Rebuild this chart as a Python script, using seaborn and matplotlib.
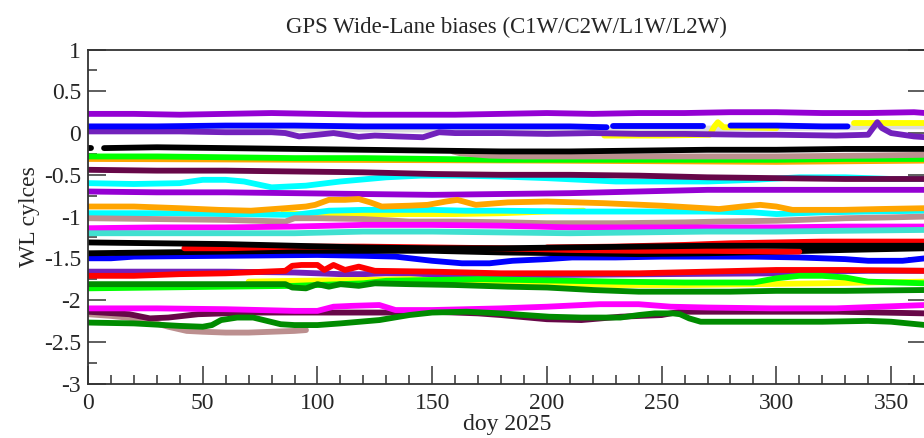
import numpy as np
import matplotlib
matplotlib.use("Agg")
import matplotlib.pyplot as plt
import seaborn as sns

# ---------------- data (day of year, WL bias in cycles) ----------------
grey_top_d = [0, 50, 90, 100, 150, 200, 250, 300, 335, 340, 365]
grey_top_v = [0.05, 0.05, 0.05, 0.05, 0.04, 0.04, 0.05, 0.06, 0.07, 0.08, 0.08]

yellow_top_d = [225, 250, 271, 273, 274.5, 277, 285, 300, 301, 334, 350, 365]
yellow_top_v = [-0.03, -0.03, -0.02, 0.08, 0.13, 0.07, 0.07, 0.06, np.nan, 0.12, 0.12, 0.12]

violet_top_d = [0, 20, 40, 60, 80, 100, 120, 140, 160, 180, 200, 220, 240, 260, 280, 300, 320, 340, 360, 365]
violet_top_v = [0.23, 0.23, 0.22, 0.23, 0.24, 0.23, 0.22, 0.22, 0.22, 0.23, 0.24, 0.23, 0.24, 0.24, 0.25, 0.25, 0.24, 0.24, 0.25, 0.24]

blue_top_d = [0, 30, 60, 90, 120, 150, 180, 210, 226, 227, 229, 250, 268, 270, 280, 300, 320, 331]
blue_top_v = [0.08, 0.08, 0.09, 0.09, 0.08, 0.08, 0.08, 0.08, 0.07, np.nan, 0.08, 0.08, 0.08, np.nan, 0.09, 0.09, 0.08, 0.08]

indigo_top_d = [0, 20, 40, 60, 80, 86, 92, 100, 107, 118, 125, 135, 146, 153, 160, 180, 200, 220, 240, 260, 287, 300, 326, 340, 344, 346, 350, 360, 365]
indigo_top_v = [0.02, 0.02, 0.02, 0.01, 0.01, 0.0, -0.04, -0.02, 0.0, -0.045, -0.03, -0.04, -0.05, 0.01, 0.0, 0.0, -0.01, 0.0, -0.01, -0.01, -0.02, -0.02, -0.03, -0.02, 0.13, 0.06, 0.0, -0.04, -0.05]

black_top_d = [0, 1.5, 3, 7, 30, 60, 90, 120, 150, 180, 210, 240, 270, 300, 330, 365]
black_top_v = [-0.18, -0.18, np.nan, -0.18, -0.17, -0.18, -0.19, -0.2, -0.21, -0.22, -0.22, -0.21, -0.2, -0.2, -0.19, -0.19]

orange_top_d = [0, 100, 200, 300, 365]
orange_top_v = [-0.31, -0.32, -0.33, -0.345, -0.33]

green_top_d = [0, 30, 60, 90, 120, 150, 180, 210, 240, 270, 300, 330, 365]
green_top_v = [-0.28, -0.28, -0.29, -0.3, -0.3, -0.31, -0.32, -0.32, -0.32, -0.32, -0.32, -0.31, -0.31]

brown_top_d = [159, 162, 166, 175, 190, 220, 260, 300, 340, 365]
brown_top_v = [-0.22, -0.24, -0.25, -0.27, -0.28, -0.28, -0.28, -0.28, -0.27, -0.26]

maroon_top_d = [0, 30, 60, 90, 120, 150, 180, 210, 240, 270, 300, 330, 365]
maroon_top_v = [-0.44, -0.45, -0.45, -0.46, -0.47, -0.49, -0.5, -0.5, -0.51, -0.53, -0.54, -0.55, -0.55]

cyan_top_d = [0, 20, 40, 50, 60, 68, 80, 95, 110, 130, 145, 160, 180, 200, 215, 230, 250, 270, 290, 310, 330, 350, 365]
cyan_top_v = [-0.60, -0.61, -0.60, -0.56, -0.56, -0.58, -0.65, -0.63, -0.58, -0.53, -0.51, -0.51, -0.52, -0.54, -0.56, -0.58, -0.58, -0.58, -0.56, -0.53, -0.53, -0.55, -0.55]

violet_mid_d = [0, 30, 60, 90, 120, 150, 180, 210, 240, 270, 300, 330, 365]
violet_mid_v = [-0.70, -0.71, -0.71, -0.72, -0.73, -0.74, -0.73, -0.72, -0.70, -0.68, -0.68, -0.68, -0.68]

cyan_mid_d = [0, 30, 60, 90, 105, 120, 150, 165, 180, 210, 240, 270, 290, 300, 320, 340, 365]
cyan_mid_v = [-0.96, -0.96, -0.97, -0.98, -0.93, -0.92, -0.92, -0.93, -0.93, -0.94, -0.94, -0.94, -0.95, -0.97, -0.95, -0.94, -0.93]

yellow_mid_d = [85, 100, 120, 140, 160, 180, 200, 216]
yellow_mid_v = [-0.96, -0.98, -0.98, -0.97, -0.97, -0.96, -0.94, -0.93]

orange_mid_d = [0, 20, 40, 57, 71, 86, 95, 99, 105, 112, 118, 123, 128, 140, 148, 156, 161, 165, 169, 183, 200, 225, 250, 275, 285, 293, 300, 307, 320, 329, 345, 365]
orange_mid_v = [-0.88, -0.88, -0.90, -0.92, -0.93, -0.90, -0.88, -0.86, -0.80, -0.80, -0.79, -0.83, -0.88, -0.87, -0.86, -0.82, -0.80, -0.83, -0.86, -0.83, -0.82, -0.84, -0.87, -0.91, -0.88, -0.86, -0.88, -0.92, -0.92, -0.92, -0.91, -0.90]

brown_mid_d = [0, 30, 60, 86, 90, 100, 120, 140, 160, 183, 200, 230, 260, 275, 300, 330, 350, 365]
brown_mid_v = [-1.02, -1.03, -1.04, -1.06, -1.02, -1.02, -1.03, -1.06, -1.06, -1.07, -1.08, -1.08, -1.07, -1.06, -1.05, -1.02, -1.01, -1.00]

magenta_mid_d = [0, 30, 60, 90, 120, 150, 180, 210, 240, 270, 300, 330, 365]
magenta_mid_v = [-1.14, -1.13, -1.13, -1.12, -1.10, -1.10, -1.11, -1.13, -1.13, -1.13, -1.13, -1.12, -1.12]

turq_d = [0, 30, 60, 90, 120, 150, 180, 210, 240, 270, 300, 330, 365]
turq_v = [-1.20, -1.20, -1.20, -1.20, -1.18, -1.18, -1.19, -1.20, -1.19, -1.18, -1.18, -1.17, -1.16]

blue_low_d = [0, 10, 20, 60, 100, 120, 134, 150, 163, 175, 185, 200, 211, 230, 250, 270, 290, 310, 330, 340, 355, 365]
blue_low_v = [-1.50, -1.50, -1.48, -1.47, -1.46, -1.47, -1.48, -1.53, -1.56, -1.56, -1.53, -1.51, -1.49, -1.49, -1.48, -1.48, -1.48, -1.49, -1.51, -1.53, -1.53, -1.50]

red_a_d = [42, 60, 90, 120, 150, 180, 210, 240, 270, 300, 310]
red_a_v = [-1.38, -1.38, -1.36, -1.36, -1.37, -1.38, -1.40, -1.41, -1.41, -1.42, -1.42]

red_b_d = [200, 230, 260, 280, 300, 320, 340, 365]
red_b_v = [-1.37, -1.36, -1.34, -1.32, -1.31, -1.30, -1.30, -1.30]

black_low2_d = [0, 30, 60, 90, 120, 150, 180, 210, 240, 270, 300, 330, 365]
black_low2_v = [-1.44, -1.43, -1.42, -1.41, -1.41, -1.41, -1.43, -1.44, -1.45, -1.44, -1.42, -1.40, -1.38]

black_low1_d = [0, 30, 60, 90, 120, 150, 180, 210, 240, 270, 300, 330, 365]
black_low1_v = [-1.31, -1.32, -1.33, -1.35, -1.37, -1.38, -1.38, -1.37, -1.36, -1.35, -1.35, -1.35, -1.35]

indigo_low_d = [0, 30, 60, 90, 100, 110, 120, 130, 150, 200, 250, 300, 320, 340, 365]
indigo_low_v = [-1.66, -1.66, -1.66, -1.67, -1.68, -1.69, -1.69, -1.68, -1.69, -1.70, -1.69, -1.68, -1.66, -1.65, -1.65]

red_low_d = [0, 20, 40, 60, 86, 89, 93, 100, 103, 107, 112, 118, 125, 150, 180, 210, 240, 270, 300, 330, 365]
red_low_v = [-1.71, -1.71, -1.69, -1.68, -1.65, -1.59, -1.58, -1.58, -1.64, -1.58, -1.64, -1.60, -1.65, -1.66, -1.68, -1.68, -1.68, -1.66, -1.64, -1.64, -1.65]

yellow_low_d = [70, 90, 120, 140, 160, 180, 200, 230, 260, 290, 320, 340, 365]
yellow_low_v = [-1.78, -1.77, -1.76, -1.75, -1.78, -1.80, -1.80, -1.82, -1.82, -1.81, -1.80, -1.79, -1.78]

green_low_d = [0, 30, 60, 90, 120, 130, 150, 170, 190, 210, 230, 260, 290, 300, 310, 320, 330, 340, 365]
green_low_v = [-1.86, -1.85, -1.84, -1.83, -1.80, -1.77, -1.76, -1.75, -1.76, -1.77, -1.78, -1.79, -1.79, -1.74, -1.71, -1.71, -1.73, -1.78, -1.80]

green4_d = [0, 30, 60, 86, 89, 95, 100, 105, 110, 118, 125, 140, 160, 183, 200, 220, 240, 260, 280, 300, 330, 365]
green4_v = [-1.81, -1.81, -1.81, -1.81, -1.85, -1.86, -1.81, -1.84, -1.81, -1.83, -1.80, -1.81, -1.82, -1.84, -1.85, -1.88, -1.90, -1.90, -1.90, -1.89, -1.89, -1.88]

magenta_low_d = [0, 30, 60, 90, 100, 107, 115, 127, 134, 150, 180, 200, 223, 240, 254, 270, 298, 326, 345, 365]
magenta_low_v = [-2.10, -2.10, -2.11, -2.13, -2.13, -2.08, -2.07, -2.06, -2.12, -2.12, -2.10, -2.08, -2.05, -2.05, -2.08, -2.09, -2.10, -2.10, -2.08, -2.06]

maroon_low_d = [0, 18, 27, 35, 48, 70, 100, 130, 150, 170, 180, 200, 215, 232, 250, 258, 280, 300, 327, 365]
maroon_low_v = [-2.14, -2.17, -2.22, -2.21, -2.17, -2.15, -2.15, -2.15, -2.14, -2.16, -2.18, -2.23, -2.24, -2.20, -2.18, -2.14, -2.14, -2.14, -2.14, -2.16]

green4_low_d = [0, 20, 40, 50, 54, 58, 65, 72, 78, 84, 90, 100, 110, 127, 140, 150, 165, 180, 201, 215, 232, 240, 247, 255, 258, 262, 267, 280, 300, 320, 340, 350, 365]
green4_low_v = [-2.27, -2.28, -2.31, -2.32, -2.30, -2.24, -2.21, -2.21, -2.25, -2.29, -2.30, -2.30, -2.28, -2.24, -2.18, -2.15, -2.14, -2.16, -2.20, -2.21, -2.21, -2.18, -2.16, -2.16, -2.17, -2.22, -2.26, -2.26, -2.26, -2.26, -2.25, -2.26, -2.30]

brown_low_d = [0, 10, 20, 27, 35, 43, 50, 60, 70, 80, 90, 95]
brown_low_v = [-2.17, -2.19, -2.22, -2.26, -2.32, -2.37, -2.38, -2.39, -2.39, -2.38, -2.37, -2.36]

x_ticks = [0, 50, 100, 150, 200, 250, 300, 350]
y_ticks = [-3, -2.5, -2, -1.5, -1, -0.5, 0, 0.5, 1]
y_ticklabels = ["-3", "-2.5", "-2", "-1.5", "-1", "-0.5", "0", "0.5", "1"]

# Grace palette
C = {
    "black": "#000000", "red": "#ff0000", "green": "#00ff00", "blue": "#0000ff",
    "yellow": "#ffff00", "brown": "#bc8f8f", "grey": "#dcdcdc", "violet": "#9400d3",
    "cyan": "#00ffff", "magenta": "#ff00ff", "orange": "#ffa500", "indigo": "#7221bc",
    "maroon": "#670748", "turquoise": "#40e0d0", "green4": "#008b00",
}

series = [
    (grey_top_d, grey_top_v, "grey"),
    (yellow_top_d, yellow_top_v, "yellow"),
    (violet_top_d, violet_top_v, "violet"),
    (indigo_top_d, indigo_top_v, "indigo"),
    (blue_top_d, blue_top_v, "blue"),
    (orange_top_d, orange_top_v, "orange"),
    (green_top_d, green_top_v, "green"),
    (brown_top_d, brown_top_v, "brown"),
    (black_top_d, black_top_v, "black"),
    (cyan_top_d, cyan_top_v, "cyan"),
    (maroon_top_d, maroon_top_v, "maroon"),
    (violet_mid_d, violet_mid_v, "violet"),
    (yellow_mid_d, yellow_mid_v, "yellow"),
    (cyan_mid_d, cyan_mid_v, "cyan"),
    (orange_mid_d, orange_mid_v, "orange"),
    (brown_mid_d, brown_mid_v, "brown"),
    (magenta_mid_d, magenta_mid_v, "magenta"),
    (turq_d, turq_v, "turquoise"),
    (blue_low_d, blue_low_v, "blue"),
    (red_b_d, red_b_v, "red"),
    (black_low2_d, black_low2_v, "black"),
    (red_a_d, red_a_v, "red"),
    (black_low1_d, black_low1_v, "black"),
    (indigo_low_d, indigo_low_v, "indigo"),
    (red_low_d, red_low_v, "red"),
    (yellow_low_d, yellow_low_v, "yellow"),
    (green_low_d, green_low_v, "green"),
    (green4_d, green4_v, "green4"),
    (brown_low_d, brown_low_v, "brown"),
    (maroon_low_d, maroon_low_v, "maroon"),
    (magenta_low_d, magenta_low_v, "magenta"),
    (green4_low_d, green4_low_v, "green4"),
]

sns.set_style("ticks")
plt.rcParams["font.family"] = ["Liberation Serif", "DejaVu Serif"]
plt.rcParams["axes.unicode_minus"] = False

fig = plt.figure(figsize=(9.24, 4.38), dpi=100)
ax = fig.add_axes([88 / 924, (438 - 383.5) / 438, (925.5 - 88) / 924, (383.5 - 49.6) / 438])


def segments(d, v):
    d = np.asarray(d, float)
    v = np.asarray(v, float)
    ok = ~np.isnan(v)
    idx = np.where(~ok)[0]
    starts = np.r_[0, idx + 1]
    ends = np.r_[idx, len(v)]
    for s, e in zip(starts, ends):
        if e - s >= 2:
            yield d[s:e], v[s:e]


for d, v, cname in series:
    for sd, sv in segments(d, v):
        sns.lineplot(x=sd, y=sv, color=C[cname], lw=4.2, ax=ax,
                     estimator=None, sort=False, legend=False)

ax.set_xlim(0, 365)
ax.set_ylim(-3, 1)
ax.set_xticks(x_ticks)
ax.set_xticklabels([str(t) for t in x_ticks])
ax.set_yticks(y_ticks)
ax.set_yticklabels(y_ticklabels)
ax.set_xticks(np.arange(0, 366, 10), minor=True)
ax.set_yticks(np.arange(-3, 1.01, 0.25), minor=True)

ax.tick_params(axis="both", which="major", direction="in", length=13, width=1.1,
               labelsize=17, color="#333333")
ax.tick_params(axis="both", which="minor", direction="in", length=6.5, width=1.1,
               color="#333333")
ax.tick_params(axis="x", pad=7)
ax.tick_params(axis="y", pad=5, right=True, labelright=False)
ax.tick_params(axis="x", top=False)

for sp in ax.spines.values():
    sp.set_linewidth(1.3)
    sp.set_color("#333333")
    sp.set_visible(True)

ax.set_xlabel("doy 2025", fontsize=17, labelpad=0)
ax.set_ylabel("WL cylces", fontsize=17, labelpad=3)
ax.set_title("GPS Wide-Lane biases (C1W/C2W/L1W/L2W)", fontsize=16.5, pad=12)

fig.savefig("out.png", dpi=100)
